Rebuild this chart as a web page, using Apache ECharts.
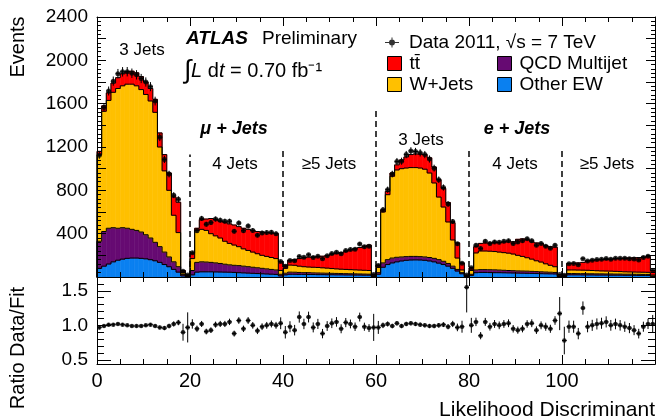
<!DOCTYPE html>
<html><head><meta charset="utf-8">
<script src="https://cdn.jsdelivr.net/npm/echarts@6/dist/echarts.min.js"></script>
<style>html,body{margin:0;padding:0;background:#fff}#c{width:657px;height:420px}</style>
</head><body><div id="c"></div>
<script>
// ---- data (per bin of the Likelihood Discriminant, 120 bins of width 1) ----
const otherEW = [
  80,100,120,140,155,165,172,175,175,172,168,160,150,135,115,95,70,45,10,3,
  20,45,48,48,48,47,46,45,44,42,40,38,36,34,32,30,28,26,24,10,
  20,25,25,24,24,23,23,22,22,21,21,20,20,19,19,18,18,17,17,3,
  25,90,115,130,140,148,154,157,158,157,154,148,140,128,115,100,80,55,30,2,
  15,40,42,42,41,40,40,39,38,37,36,35,34,33,32,31,30,29,28,3,
  4,20,20,20,19,19,19,18,18,18,17,17,17,16,16,16,15,15,15,6];
const qcdMultijet = [
  250,320,330,315,295,290,278,265,255,243,222,200,170,145,115,90,70,50,12,4,
  40,90,92,90,87,83,79,73,68,66,65,62,59,56,53,50,47,44,41,15,
  15,20,19,18,16,17,15,15,14,14,13,13,12,12,11,11,10,10,9,3,
  15,40,45,45,42,37,34,33,32,31,31,32,32,32,30,25,20,15,10,1,
  10,25,26,26,26,26,24,23,22,21,20,20,20,19,18,17,16,15,14,2,
  2,12,12,11,12,11,11,11,11,10,11,10,10,10,10,9,10,9,9,3];
const wJets = [
  800,1110,1180,1250,1290,1310,1330,1340,1335,1315,1295,1265,1200,920,750,615,430,315,18,5,
  110,295,300,292,265,250,235,212,198,187,175,160,150,140,130,120,115,110,105,35,
  45,65,64,58,55,52,52,51,49,47,44,42,40,39,38,37,36,35,34,6,
  50,470,600,755,806,815,818,820,820,818,810,780,696,578,501,383,242,105,25,3,
  35,157,172,172,171,169,166,163,160,154,144,135,124,113,100,90,76,64,53,3,
  4,33,33,33,32,32,30,29,27,27,26,25,23,22,21,21,20,20,19,9];
const ttbar = [
  30,50,70,85,100,110,115,120,120,120,115,115,120,130,150,160,170,280,20,8,
  50,20,90,105,140,150,155,175,180,185,185,190,195,200,205,215,220,225,230,80,
  30,45,52,70,83,91,96,100,107,116,132,143,153,165,182,196,208,223,235,13,
  20,20,30,30,47,80,102,120,125,129,135,140,147,160,172,180,160,140,65,6,
  25,58,70,75,77,83,90,98,105,113,148,162,167,160,165,172,168,172,180,12,
  10,60,63,66,72,88,95,100,104,107,111,118,122,127,129,132,135,141,145,42];
const ratioDataFit = [
  0.97,0.99,1.01,1.01,1.02,1.01,1.00,0.99,0.99,0.99,1.00,1.01,0.99,0.97,0.96,0.99,1.02,1.04,0.90,0.97,
  1.02,0.95,1.02,0.91,0.93,1.01,1.02,1.02,1.05,0.88,1.07,0.95,1.07,1.00,0.92,0.98,1.00,1.02,1.00,1.03,
  0.90,0.98,0.93,1.12,1.02,1.12,0.97,1.02,0.88,0.99,1.03,1.05,0.95,1.04,1.02,0.98,1.12,0.98,0.96,0.97,
  0.97,1.00,1.02,0.99,1.03,0.99,1.02,1.03,1.02,1.01,1.00,0.99,0.99,1.00,1.01,0.98,1.02,0.97,0.98,1.55,
  1.00,1.05,0.85,1.05,0.98,1.02,1.00,1.02,1.03,0.95,0.93,0.95,1.02,1.03,0.93,1.00,0.98,0.95,1.07,1.17,
  0.78,0.98,0.98,0.88,1.25,0.98,1.00,1.02,1.03,1.05,1.00,1.02,1.00,0.98,0.96,0.93,0.88,0.98,1.02,1.02];
const regionEdges = [20, 40, 60, 80, 100];
const regionLineTops = [1130, 1170, 1560, 1170, 1170];
const eventRange = [0, 2400];
const ratioLabelValues = [0.5, 1.0, 1.5];
const ratioMinorValues = [0.6,0.7,0.8,0.9,1.1,1.2,1.3,1.4,1.6];

// ---- derived ----
const FONT = "'Liberation Sans', Arial, Helvetica, sans-serif";
const NB = otherEW.length;
const layers = [otherEW, qcdMultijet, wJets, ttbar];
const cum = [];
let run = new Array(NB).fill(0);
layers.forEach(arr => { run = run.map((v,i)=>v+arr[i]); cum.push(run); });
const total = cum[3];
const dataCounts = total.map((t,i)=>Math.round(t*ratioDataFit[i]));
const dataName = 'Data 2011, \u221As = 7 TeV';
const TT = 't\u0074\u0304';
const COL = {tt:'#ff0000', qcd:'#660a72', w:'#ffc000', ew:'#0a80f0'};
const RMIN = 0.44, RMAX = 1.7;

function errBar(yMin, yMax){
  return function(params, api){
    const x = api.value(0), y = api.value(1), e = api.value(2);
    const lo = Math.max(yMin, y-e), hi = Math.min(yMax, y+e);
    const a = api.coord([x-0.5, y]), b = api.coord([x+0.5, y]);
    const c = api.coord([x, lo]), d = api.coord([x, hi]);
    return {type:'group', children:[
      {type:'line', shape:{x1:a[0],y1:a[1],x2:b[0],y2:b[1]}, style:{stroke:'#000', lineWidth:1}},
      {type:'line', shape:{x1:c[0],y1:c[1],x2:d[0],y2:d[1]}, style:{stroke:'#000', lineWidth:1}}
    ]};
  };
}
function fillRender(color){
  return function(params, api){
    const i = api.value(0), b = api.value(1), t = api.value(2);
    const p0 = api.coord([i, t]), p1 = api.coord([i+1, b]);
    return {type:'rect', shape:{x:p0[0], y:p0[1], width:p1[0]-p0[0], height:p1[1]-p0[1]},
      style:{fill:color, stroke:color, lineWidth:0.6}};
  };
}
function outlineRender(params, api){
  const i = api.value(0);
  const kids = [];
  for (let k=0;k<4;k++){
    const t = api.value(1+2*k), pv = api.value(2+2*k);
    const a = api.coord([i, t]), b = api.coord([i+1, t]), c = api.coord([i, pv]);
    kids.push({type:'line', shape:{x1:a[0],y1:a[1],x2:b[0],y2:b[1]}, style:{stroke:'#000', lineWidth:1}});
    kids.push({type:'line', shape:{x1:c[0],y1:c[1],x2:a[0],y2:a[1]}, style:{stroke:'#000', lineWidth:1}});
  }
  return {type:'group', children:kids};
}
function fillSeries(name, k, color){
  return {name, type:'custom', xAxisIndex:0, yAxisIndex:0, z:2, silent:true,
    itemStyle:{color}, renderItem: fillRender(color),
    data: cum[k].map((t,i)=>[i, k ? cum[k-1][i] : 0, t])};
}

const chart = echarts.init(document.getElementById('c'), null, {renderer:'canvas'});
const axLine = {show:true, onZero:false, lineStyle:{color:'#000', width:1}};
function xAx(grid, pos, labels){
  return {type:'value', gridIndex:grid, position:pos, min:0, max:120, interval:20, z:10,
    axisLine:axLine, splitLine:{show:false},
    axisTick:{show:true, inside:true, length:9, lineStyle:{color:'#000'}},
    minorTick:{show:true, splitNumber:4, length:5, lineStyle:{color:'#000'}},
    axisLabel:{show:labels, showMaxLabel:false, color:'#000', fontSize:20, fontFamily:FONT, margin:7}};
}
function yTop(pos, labels){
  return {type:'value', gridIndex:0, position:pos, min:eventRange[0], max:eventRange[1], interval:200, z:10,
    axisLine:axLine, splitLine:{show:false},
    axisTick:{show:true, inside:true, length:9, lineStyle:{color:'#000'}},
    minorTick:{show:true, splitNumber:5, length:4, lineStyle:{color:'#000'}},
    axisLabel:{show:labels, color:'#000', fontSize:19, fontFamily:FONT, margin:9,
      formatter: v => (v>0 && v%400===0) ? String(v) : ''}};
}
function yRatio(pos, labels, vals, len){
  return {type:'value', gridIndex:1, position:pos, min:RMIN, max:RMAX, z:10,
    axisLine:axLine, splitLine:{show:false},
    axisTick:{show:true, inside:true, length:len, customValues:vals, lineStyle:{color:'#000'}},
    axisLabel:{show:labels, customValues:ratioLabelValues, color:'#000', fontSize:19, fontFamily:FONT, margin:9,
      formatter: v => Number(v).toFixed(1)}};
}
const legText = {fontSize:19, color:'#000', fontFamily:FONT, lineHeight:14};

const option = {
  animation:false,
  backgroundColor:'#fff',
  textStyle:{fontFamily:FONT},
  grid:[
    {left:97, top:17, width:558, height:260},
    {left:97, top:277, width:558, height:87}
  ],
  xAxis:[xAx(0,'bottom',false), xAx(0,'top',false), xAx(1,'bottom',true), xAx(1,'top',false)],
  yAxis:[yTop('left',true), yTop('right',false),
    yRatio('left',true,ratioLabelValues,14), yRatio('left',false,ratioMinorValues,7),
    yRatio('right',false,ratioLabelValues,14), yRatio('right',false,ratioMinorValues,7)],
  legend:[
    {data:[{name:dataName, icon:'path://M0,4.5L14,4.5L14,5.5L0,5.5Z M6.5,0L7.5,0L7.5,10L6.5,10Z M7,2A3,3,0,1,1,6.99,2Z', itemStyle:{color:'#000'}}],
     left:385, top:33, padding:0, itemWidth:14, itemHeight:10, selectedMode:false,
     textStyle:Object.assign({padding:[0,0,0,5]}, legText)},
    {data:[{name:TT, itemStyle:{color:COL.tt, borderColor:'#000', borderWidth:1}},
           {name:'W+Jets', itemStyle:{color:COL.w, borderColor:'#000', borderWidth:1}}],
     orient:'vertical', left:387, top:54, padding:0, icon:'rect', itemWidth:14, itemHeight:14, itemGap:2, selectedMode:false,
     textStyle:Object.assign({padding:[0,0,0,3]}, legText)},
    {data:[{name:'QCD Multijet', itemStyle:{color:COL.qcd, borderColor:'#000', borderWidth:1}},
           {name:'Other EW', itemStyle:{color:COL.ew, borderColor:'#000', borderWidth:1}}],
     orient:'vertical', left:497, top:54, padding:0, icon:'rect', itemWidth:14, itemHeight:14, itemGap:2, selectedMode:false,
     textStyle:Object.assign({padding:[0,0,0,3]}, legText)}
  ],
  series:[
    fillSeries('Other EW', 0, COL.ew),
    fillSeries('QCD Multijet', 1, COL.qcd),
    fillSeries('W+Jets', 2, COL.w),
    fillSeries(TT, 3, COL.tt),
    {name:'outline', type:'custom', xAxisIndex:0, yAxisIndex:0, z:3, silent:true,
     renderItem: outlineRender,
     data: total.map((_,i)=>{ const r=[i]; for(let k=0;k<4;k++){ r.push(cum[k][i], i ? cum[k][i-1] : 0); } return r; })},
    {name:'dataErr', type:'custom', xAxisIndex:0, yAxisIndex:0, z:5, silent:true,
     renderItem: errBar(0, 2400),
     data: dataCounts.map((d,i)=>[i+0.5, d, Math.sqrt(d)])},
    {name:dataName, type:'scatter', xAxisIndex:0, yAxisIndex:0, z:6, silent:true,
     symbol:'circle', symbolSize:5, itemStyle:{color:'#000'},
     data: dataCounts.map((d,i)=>[i+0.5, d]),
     markLine:{silent:true, symbol:['none','none'], label:{show:false},
       lineStyle:{color:'#000', width:1.5, type:[6,4]},
       data: regionEdges.map((x,k)=>[{coord:[x,0]},{coord:[x,regionLineTops[k]]}])}},
    {name:'ratioErr', type:'custom', xAxisIndex:2, yAxisIndex:2, z:5, silent:true,
     renderItem: errBar(RMIN, RMAX),
     data: ratioDataFit.map((r,i)=>[i+0.5, r, Math.sqrt(dataCounts[i])/total[i]])},
    {name:'ratio', type:'scatter', xAxisIndex:2, yAxisIndex:2, z:6, silent:true,
     symbol:'circle', symbolSize:4.5, itemStyle:{color:'#000'},
     data: ratioDataFit.map((r,i)=>[i+0.5, r])}
  ],
  graphic:[
    {type:'text', x:18, y:47, rotation:Math.PI/2, style:{text:'Events', font:'20px '+FONT, fill:'#000', align:'center', verticalAlign:'middle'}},
    {type:'text', x:18, y:348, rotation:Math.PI/2, style:{text:'Ratio Data/Fit', font:'20px '+FONT, fill:'#000', align:'center', verticalAlign:'middle'}},
    {type:'text', x:655, y:410, style:{text:'Likelihood Discriminant', font:'21px '+FONT, fill:'#000', align:'right', verticalAlign:'middle'}},
    {type:'text', x:186, y:39, style:{text:'ATLAS', font:'italic bold 19px '+FONT, fill:'#000', align:'left', verticalAlign:'middle'}},
    {type:'text', x:262, y:39, style:{text:'Preliminary', font:'19px '+FONT, fill:'#000', align:'left', verticalAlign:'middle'}},
    {type:'text', x:184, y:71, style:{text:'{a|\u222B}{i|L} d{i|t} = 0.70 fb\u207B\u00B9', font:'20px '+FONT, fill:'#000', align:'left', verticalAlign:'middle',
       rich:{a:{fontSize:26, fontFamily:FONT}, i:{fontStyle:'italic', fontSize:20, fontFamily:FONT}}}},
    {type:'text', x:142, y:50, style:{text:'3 Jets', font:'17px '+FONT, fill:'#000', align:'center', verticalAlign:'middle'}},
    {type:'text', x:234, y:129, style:{text:'\u03BC + Jets', font:'italic bold 18px '+FONT, fill:'#000', align:'center', verticalAlign:'middle'}},
    {type:'text', x:235, y:164, style:{text:'4 Jets', font:'17px '+FONT, fill:'#000', align:'center', verticalAlign:'middle'}},
    {type:'text', x:329, y:164, style:{text:'\u22655 Jets', font:'17px '+FONT, fill:'#000', align:'center', verticalAlign:'middle'}},
    {type:'text', x:421, y:140, style:{text:'3 Jets', font:'17px '+FONT, fill:'#000', align:'center', verticalAlign:'middle'}},
    {type:'text', x:517, y:129, style:{text:'e + Jets', font:'italic bold 18px '+FONT, fill:'#000', align:'center', verticalAlign:'middle'}},
    {type:'text', x:515, y:164, style:{text:'4 Jets', font:'17px '+FONT, fill:'#000', align:'center', verticalAlign:'middle'}},
    {type:'text', x:607, y:164, style:{text:'\u22655 Jets', font:'17px '+FONT, fill:'#000', align:'center', verticalAlign:'middle'}}
  ]
};
chart.setOption(option);
</script>
</body></html>
